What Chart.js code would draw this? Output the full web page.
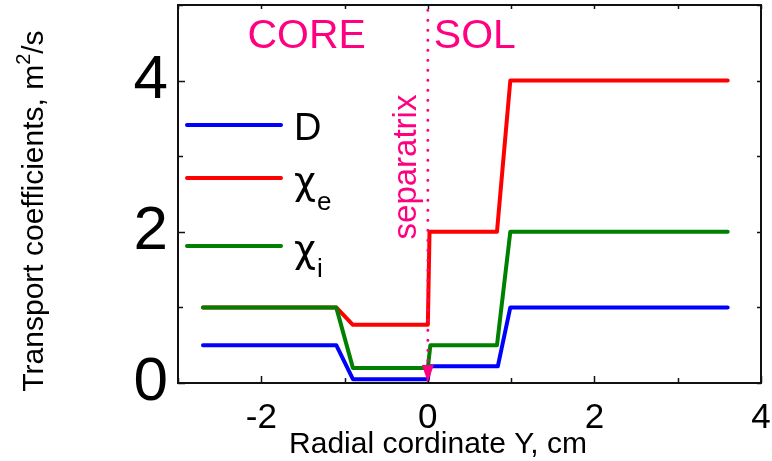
<!DOCTYPE html>
<html>
<head>
<meta charset="utf-8">
<script src="https://cdn.jsdelivr.net/npm/chart.js@4/dist/chart.umd.min.js"></script>
<style>
  html, body { margin: 0; padding: 0; background: #fff; }
  canvas { display: block; }
</style>
</head>
<body>
<canvas id="transportChart" width="772" height="461"></canvas>
<script>
// Data (x in cm, y in m^2/s)
const xD    = [-2.7, -1.1, -0.9, 0.0, 0.02, 0.84, 0.99, 3.6];
const yD    = [0.5, 0.5, 0.05, 0.05, 0.22, 0.22, 1.0, 1.0];
const xChiE = [-2.7, -1.1, -0.9, 0.0, 0.02, 0.83, 0.99, 3.6];
const yChiE = [1.0, 1.0, 0.77, 0.77, 2.0, 2.0, 4.0, 4.0];
const xChiI = [-2.7, -1.1, -0.9, 0.0, 0.03, 0.83, 0.99, 3.6];
const yChiI = [1.0, 1.0, 0.2, 0.2, 0.5, 0.5, 2.0, 2.0];
const xSep  = [0, 0];
const ySep  = [4.93, 0];

const xTickValues = [-2, 0, 2, 4];
const yTickValues = [0, 2, 4];
const xMinorTicks = [-3, -1, 1, 3];
const yMinorTicks = [1, 3, 5];

const FONT = "'Liberation Sans', Arial, sans-serif";
const CHI_FONT = "'DejaVu Sans', 'Liberation Sans', sans-serif";
const PINK = '#ff0080';

function toPoints(xs, ys) {
    return xs.map((x, i) => ({ x: x, y: ys[i] }));
}

function lineDataset(label, xs, ys, color, order) {
    return {
        label: label,
        data: toPoints(xs, ys),
        borderColor: color,
        borderWidth: 4,
        borderCapStyle: 'round',
        borderJoinStyle: 'round',
        pointRadius: 0,
        tension: 0,
        fill: false,
        order: order
    };
}

// Frame, inward ticks, titles, legend and annotations
const decorPlugin = {
    id: 'decor',
    afterDraw(chart) {
        const ctx = chart.ctx;
        const area = chart.chartArea;
        const xs = chart.scales.x;
        const ys = chart.scales.y;
        ctx.save();

        // frame
        ctx.strokeStyle = '#111';
        ctx.lineWidth = 2;
        ctx.strokeRect(area.left, area.top, area.right - area.left, area.bottom - area.top);

        // ticks
        ctx.lineWidth = 1.5;
        ctx.beginPath();
        xTickValues.concat(xMinorTicks).forEach(v => {
            const px = Math.round(xs.getPixelForValue(v)) + 0.5;
            const major = xTickValues.includes(v);
            ctx.moveTo(px, area.bottom);
            ctx.lineTo(px, area.bottom - (major ? 7 : 5));
            ctx.moveTo(px, area.top);
            ctx.lineTo(px, area.top + 4);
        });
        yTickValues.concat(yMinorTicks).forEach(v => {
            const py = Math.round(ys.getPixelForValue(v)) + 0.5;
            const major = yTickValues.includes(v);
            ctx.moveTo(area.left, py);
            ctx.lineTo(area.left + (major ? 7 : 5), py);
            ctx.moveTo(area.right, py);
            ctx.lineTo(area.right - 4, py);
        });
        ctx.stroke();

        // arrow head at the foot of the separatrix
        const tipX = xs.getPixelForValue(xSep[1]);
        const tipY = ys.getPixelForValue(ySep[1]);
        ctx.fillStyle = PINK;
        ctx.beginPath();
        ctx.moveTo(tipX - 6, tipY - 18);
        ctx.lineTo(tipX + 6, tipY - 18);
        ctx.lineTo(tipX, tipY - 1);
        ctx.closePath();
        ctx.fill();

        // axis titles
        ctx.fillStyle = '#000';
        ctx.font = '30px ' + FONT;
        ctx.textAlign = 'center';
        ctx.textBaseline = 'alphabetic';
        ctx.fillText('Radial cordinate Y, cm', 438, 453);

        ctx.save();
        ctx.translate(43, 211);
        ctx.rotate(-Math.PI / 2);
        ctx.textAlign = 'left';
        const t1 = 'Transport coefficients, m';
        const w1 = ctx.measureText(t1).width;
        const w2 = ctx.measureText('/s').width;
        ctx.font = '20px ' + FONT;
        const wSup = ctx.measureText('2').width;
        const start = -(w1 + wSup + w2) / 2;
        ctx.font = '30px ' + FONT;
        ctx.fillText(t1, start, 0);
        ctx.fillText('/s', start + w1 + wSup, 0);
        ctx.font = '20px ' + FONT;
        ctx.fillText('2', start + w1, -13);
        ctx.restore();

        // legend
        const legendLineY = [125, 178, 246];
        const legendBase = [140, 194, 262];
        const legendSubBase = [140, 210, 277];
        chart.data.datasets.slice(0, 3).forEach((ds, i) => {
            ctx.strokeStyle = ds.borderColor;
            ctx.lineWidth = 4;
            ctx.lineCap = 'round';
            ctx.beginPath();
            ctx.moveTo(187, legendLineY[i]);
            ctx.lineTo(281, legendLineY[i]);
            ctx.stroke();

            const main = ds.label.charAt(0);
            const sub = ds.label.slice(1);
            ctx.fillStyle = '#000';
            ctx.textAlign = 'left';
            ctx.font = '38px ' + (sub ? CHI_FONT : FONT);
            ctx.fillText(main, 294, legendBase[i]);
            if (sub) {
                const w = ctx.measureText(main).width;
                ctx.font = '26px ' + FONT;
                ctx.fillText(sub, 294 + w + 1, legendSubBase[i]);
            }
        });

        // CORE / SOL and separatrix label
        const sepX = xs.getPixelForValue(0);
        ctx.fillStyle = PINK;
        ctx.font = '41px ' + FONT;
        ctx.textAlign = 'right';
        ctx.fillText('CORE', sepX - 62, 48);
        ctx.textAlign = 'left';
        ctx.fillText('SOL', sepX + 6, 48);

        ctx.save();
        ctx.translate(sepX - 12, 167);
        ctx.rotate(-Math.PI / 2);
        ctx.textAlign = 'center';
        ctx.font = '33px ' + FONT;
        ctx.fillText('separatrix', 0, 0);
        ctx.restore();

        ctx.restore();
    }
};

const ctx = document.getElementById('transportChart').getContext('2d');
const transportChart = new Chart(ctx, {
    type: 'line',
    data: {
        datasets: [
            lineDataset('D', xD, yD, '#0000ff', 4),
            lineDataset('\u03C7e', xChiE, yChiE, '#ff0000', 3),
            lineDataset('\u03C7i', xChiI, yChiI, '#008000', 2),
            {
                label: 'separatrix',
                data: toPoints(xSep, ySep),
                borderColor: PINK,
                borderWidth: 3,
                borderDash: [0, 10],
                borderCapStyle: 'round',
                pointRadius: 0,
                tension: 0,
                fill: false,
                order: 1
            }
        ]
    },
    options: {
        responsive: false,
        animation: false,
        events: [],
        layout: {
            padding: { top: 5, right: 11, left: 0, bottom: 0 }
        },
        plugins: {
            legend: { display: false },
            tooltip: { enabled: false }
        },
        scales: {
            x: {
                type: 'linear',
                min: -3,
                max: 4,
                grid: { display: false, drawTicks: false },
                border: { display: false },
                afterBuildTicks: function(scale) {
                    scale.ticks = xTickValues.map(v => ({ value: v }));
                },
                afterFit: function(scale) {
                    scale.height = 78;
                    scale.paddingLeft = 0;
                    scale.paddingRight = 0;
                },
                ticks: {
                    autoSkip: false,
                    maxRotation: 0,
                    padding: 14,
                    color: '#000',
                    font: { family: FONT, size: 35 }
                }
            },
            y: {
                min: 0,
                max: 5,
                grid: { display: false, drawTicks: false },
                border: { display: false },
                afterBuildTicks: function(scale) {
                    scale.ticks = yTickValues.map(v => ({ value: v }));
                },
                afterFit: function(scale) {
                    scale.width = 178;
                    scale.paddingTop = 0;
                    scale.paddingBottom = 0;
                },
                ticks: {
                    padding: 10,
                    color: '#000',
                    font: { family: FONT, size: 62 }
                }
            }
        }
    },
    plugins: [decorPlugin]
});
</script>
</body>
</html>
